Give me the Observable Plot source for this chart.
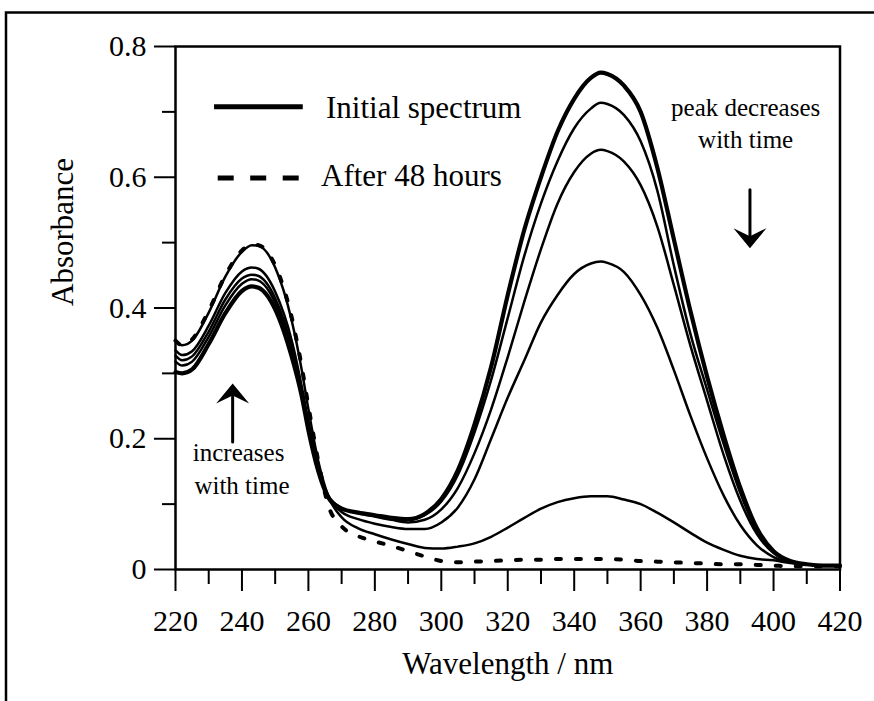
<!DOCTYPE html>
<html><head><meta charset="utf-8">
<script src="https://cdn.jsdelivr.net/npm/d3@7"></script>
<script src="https://cdn.jsdelivr.net/npm/@observablehq/plot@0.6"></script>
<style>body{margin:0;background:#fff;} #chart svg{display:block;}</style>
</head><body><div id="chart"></div>
<script>
// ---- data ----
const wavelengths = [220,222,225,230,235,240,243,245,250,255,258,260,263,266,270,275,280,285,290,295,300,305,310,315,320,325,330,335,340,345,348,350,355,360,365,370,375,380,385,390,395,400,405,410,415,420];

const initialSpectrum = [0.302,0.300,0.306,0.345,0.392,0.426,0.433,0.431, 0.398,0.325,0.265,0.213,0.150,0.110, 0.093,0.087,0.083,0.079,0.077,0.085,0.108, 0.152,0.222,0.310,0.420,0.520,0.600,0.670,0.720,0.752, 0.760,0.758,0.740,0.700,0.615,0.505,0.395,0.295,0.205,0.125,0.063,0.028,0.013,0.008,0.006,0.006];
const spectrum2 = [0.318,0.312,0.318,0.356,0.404,0.437,0.444,0.442, 0.408,0.333,0.270,0.218,0.152,0.112, 0.094,0.087,0.083,0.079,0.076,0.083,0.104, 0.145,0.210,0.290,0.385,0.480,0.560,0.625,0.675,0.705, 0.714,0.712,0.695,0.655,0.580,0.465,0.360,0.275,0.192,0.117,0.058,0.027,0.013,0.008,0.006,0.006];
const spectrum3 = [0.327,0.320,0.326,0.364,0.413,0.445,0.451,0.449, 0.415,0.340,0.275,0.222,0.154,0.113, 0.094,0.086,0.081,0.076,0.072,0.076,0.092, 0.125,0.178,0.245,0.325,0.410,0.490,0.560,0.608,0.636, 0.642,0.640,0.624,0.588,0.525,0.435,0.342,0.258,0.175,0.105,0.054,0.025,0.012,0.008,0.006,0.006];
const spectrum4 = [0.335,0.328,0.334,0.373,0.423,0.456,0.462,0.460, 0.425,0.350,0.280,0.226,0.155,0.112, 0.088,0.077,0.070,0.065,0.062,0.062,0.072, 0.095,0.138,0.200,0.263,0.320,0.378,0.420,0.452,0.468, 0.471,0.469,0.455,0.420,0.370,0.305,0.235,0.170,0.113,0.068,0.037,0.019,0.011,0.008,0.006,0.006];
const spectrum5 = [0.350,0.343,0.350,0.393,0.448,0.486,0.496,0.495, 0.462,0.380,0.305,0.245,0.165,0.112, 0.080,0.063,0.054,0.046,0.039,0.033,0.032, 0.035,0.040,0.050,0.064,0.079,0.093,0.103,0.109,0.112, 0.112,0.112,0.107,0.100,0.087,0.072,0.056,0.041,0.030,0.021,0.016,0.014,0.010,0.008,0.006,0.006];
const after48Hours = [0.350,0.343,0.352,0.396,0.450,0.488,0.497,0.496, 0.465,0.385,0.310,0.250,0.165,0.098, 0.066,0.051,0.043,0.036,0.028,0.020,0.013, 0.011,0.012,0.013,0.014,0.015,0.015,0.016,0.016,0.016, 0.016,0.016,0.015,0.013,0.012,0.011,0.010,0.009,0.008,0.008,0.007,0.006,0.005,0.005,0.005,0.005];

const xTicks = [220,240,260,280,300,320,340,360,380,400,420];
const xMinorTicks = [230,250,270,290,310,330,350,370,390,410];
const yTicks = [0,0.2,0.4,0.6,0.8];
const yMinorTicks = [0.1,0.3,0.5,0.7];

const xLabel = "Wavelength / nm";
const yLabel = "Absorbance";
const legendLabels = ["Initial spectrum","After 48 hours"];
const legendLabelX = [265.3, 263.8];
const legendLabelY = [0.706, 0.602];
const legendSampleX1 = [231.6, 232.7];
const legendSampleX2 = [258.3, 257.2];
const legendSampleY = [0.708, 0.599];

const noteRight = ["peak decreases","with time"];
const noteRightX = [391.6, 391.6];
const noteRightY = [0.7054, 0.657];
const noteLeft = ["increases","with time"];
const noteLeftX = [239, 240];
const noteLeftY = [0.178, 0.128];
const arrowX = [392.9, 237.2];
const arrowFromY = [0.581, 0.195];
const arrowToY = [0.4915, 0.2846];

// ---- build tables ----
const toRows = (name, vals) => vals.map((v, i) => ({series: name, wavelength: wavelengths[i], absorbance: v}));
const thinRows = [
  ...toRows("s2", spectrum2), ...toRows("s3", spectrum3),
  ...toRows("s4", spectrum4), ...toRows("s5", spectrum5)
];
const initialRows = toRows("initial", initialSpectrum);
const afterRows = toRows("after", after48Hours);

const legendRows = legendLabels.map((t, i) => ({t, x: legendLabelX[i], y: legendLabelY[i], x1: legendSampleX1[i], x2: legendSampleX2[i], ys: legendSampleY[i]}));
const noteRightRows = noteRight.map((t, i) => ({t, x: noteRightX[i], y: noteRightY[i]}));
const noteLeftRows = noteLeft.map((t, i) => ({t, x: noteLeftX[i], y: noteLeftY[i]}));
const arrowRows = arrowX.map((x, i) => ({x, y1: arrowFromY[i], y2: arrowToY[i]}));

// barbed, filled arrowhead symbol (tip at origin, pointing up)
const arrowHead = {
  draw(context) {
    context.moveTo(0, 0);
    context.lineTo(16.5, 20);
    context.lineTo(0, 12);
    context.lineTo(-16.5, 20);
    context.closePath();
  }
};

const font = "'Liberation Serif', 'Times New Roman', serif";

const chart = Plot.plot({
  width: 874,
  height: 701,
  marginLeft: 175,
  marginRight: 34.5,
  marginTop: 46,
  marginBottom: 132,
  style: {fontFamily: font, background: "white", color: "black"},
  x: {domain: [220, 420]},
  y: {domain: [0, 0.8]},
  marks: [
    Plot.axisY({ticks: yTicks, tickSize: 21, tickPadding: 8, fontSize: 30, strokeWidth: 2, label: null,
      tickFormat: d => d === 0 ? "0" : d.toFixed(1)}),
    Plot.axisY({ticks: yMinorTicks, tickSize: 13, strokeWidth: 2, label: null, tickFormat: () => ""}),
    Plot.axisX({ticks: xTicks, tickSize: 22, tickPadding: 18, fontSize: 30, strokeWidth: 2, label: null}),
    Plot.axisX({ticks: xMinorTicks, tickSize: 15, strokeWidth: 2, label: null, tickFormat: () => ""}),
    Plot.line(thinRows, {x: "wavelength", y: "absorbance", z: "series", curve: "monotone-x", stroke: "black", strokeWidth: 2.5}),
    Plot.line(initialRows, {x: "wavelength", y: "absorbance", curve: "monotone-x", stroke: "black", strokeWidth: 4.2}),
    Plot.line(afterRows, {x: "wavelength", y: "absorbance", curve: "monotone-x", stroke: "black", strokeWidth: 4, strokeDasharray: "5,15", strokeLinecap: "round"}),
    Plot.link(legendRows.slice(0,1), {x1: "x1", x2: "x2", y1: "ys", y2: "ys", stroke: "black", strokeWidth: 5}),
    Plot.link(legendRows.slice(1), {x1: "x1", x2: "x2", y1: "ys", y2: "ys", stroke: "black", strokeWidth: 5, strokeDasharray: "16,16.5"}),
    Plot.text(legendRows, {x: "x", y: "y", text: "t", textAnchor: "start", fontSize: 31, fill: "black"}),
    Plot.text(noteRightRows, {x: "x", y: "y", text: "t", fontSize: 25, fill: "black"}),
    Plot.text(noteLeftRows, {x: "x", y: "y", text: "t", fontSize: 25, fill: "black"}),
    Plot.arrow(arrowRows, {x: "x", y1: "y1", y2: "y2", headLength: 0, insetEnd: 12, strokeWidth: 3, stroke: "black"}),
    Plot.dot(arrowRows, {x: "x", y: "y2", symbol: arrowHead, r: 5, rotate: d => d.y2 < d.y1 ? 180 : 0, fill: "black", stroke: "none"}),
    Plot.text([yLabel], {frameAnchor: "left", dx: -112.5, dy: -2, rotate: -90, fontSize: 31, fill: "black"}),
    Plot.text([xLabel], {frameAnchor: "bottom", dy: 104, fontSize: 31, fill: "black"}),
    Plot.frame({stroke: "black", strokeWidth: 2.5})
  ]
});

// outer figure border (decoration)
d3.select(chart).append("path")
  .attr("d", "M6,701 V12.5 H874")
  .attr("fill", "none").attr("stroke", "black").attr("stroke-width", 2.5);

document.getElementById("chart").appendChild(chart);
</script>
</body></html>
